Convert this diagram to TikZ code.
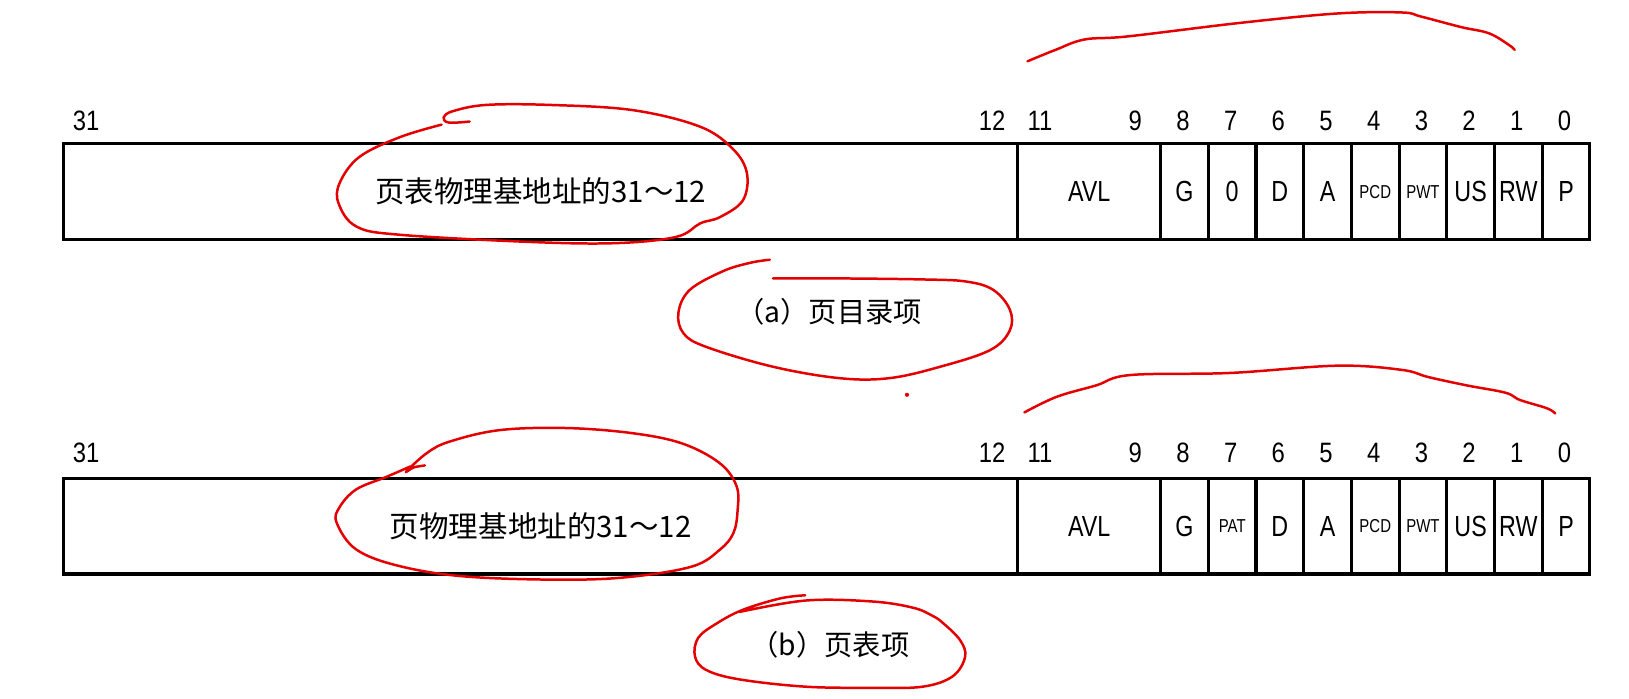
\documentclass[tikz,border=0pt]{standalone}
\usepackage{fontspec}
\setmainfont{Noto Sans CJK SC}
\newfontfamily\lab[FakeStretch=0.85]{Liberation Sans}
\newfontfamily\labn[FakeStretch=0.8]{Liberation Sans}
\definecolor{inkred}{RGB}{228,0,0}
\begin{document}
\begin{tikzpicture}[x=0.5pt,y=-0.5pt,
  cellbox/.style={draw, line width=1.5pt, inner sep=0pt, minimum height=46pt, anchor=north west},
  bitnum/.style={font=\lab\fontsize{13.5}{14}\selectfont, inner sep=0pt},
  fld/.style={font=\labn\fontsize{14}{15}\selectfont},
  sfld/.style={font=\labn\fontsize{9}{10}\selectfont},
  big/.style={font=\fontsize{14.2}{15}\selectfont},
  captxt/.style={font=\fontsize{13.6}{15}\selectfont, inner sep=0pt},
  ink/.style={inkred, line width=1.2pt, line cap=round, line join=round}]
\useasboundingbox (0,0) rectangle (1568,672);
\def\cw{45.9}
% upper row: page directory entry
\foreach \nm/\i/\n/\txt/\sty in {F/0/20/{页表物理基地址的31～12}/big, AVL/20/3/AVL/fld, G/23/1/G/fld, O/24/1/0/fld, D/25/1/D/fld, A/26/1/A/fld, PCD/27/1/PCD/sfld, PWT/28/1/PWT/sfld, US/29/1/US/fld, RW/30/1/RW/fld, P/31/1/P/fld}
  \node[cellbox,\sty,minimum width=\n*22.95pt] (u\nm) at ({60+\i*\cw},137) {\txt};
\foreach \b in {31,12,11,9,8,7,6,5,4,3,2,1,0}
  \node[bitnum] (ub\b) at ({60+(31-\b+0.5)*\cw},116) {\b};
\node[captxt] (capa) at (798,300) {（a）页目录项};
% lower row: page table entry
\foreach \nm/\i/\n/\txt/\sty in {F/0/20/{页物理基地址的31～12}/big, AVL/20/3/AVL/fld, G/23/1/G/fld, PAT/24/1/PAT/sfld, D/25/1/D/fld, A/26/1/A/fld, PCD/27/1/PCD/sfld, PWT/28/1/PWT/sfld, US/29/1/US/fld, RW/30/1/RW/fld, P/31/1/P/fld}
  \node[cellbox,\sty,minimum width=\n*22.95pt] (l\nm) at ({60+\i*\cw},459) {\txt};
\foreach \b in {31,12,11,9,8,7,6,5,4,3,2,1,0}
  \node[bitnum] (lb\b) at ({60+(31-\b+0.5)*\cw},436) {\b};
\node[captxt] (capb) at (799,621) {（b）页表项};
% red freehand annotations
\draw[ink] plot[smooth, tension=0.6] coordinates {(989,59) (1016,48) (1044,38) (1086,35) (1194,22) (1287,13) (1349,12) (1368,16) (1406,26) (1433,32) (1452,43) (1458,48)};
\draw[ink] plot[smooth, tension=0.6] coordinates {(452,117) (432,118) (427,113) (436,107) (468,101) (529,101) (609,106) (674,122) (706,144) (719,167) (715,193) (693,209) (674,215) (651,228) (594,234) (513,233) (385,226) (343,218) (326,196) (327,176) (346,151) (385,132) (425,120)};
\draw[ink] plot[smooth, tension=0.6] coordinates {(741,250) (722,253) (696,261) (664,279) (653,301) (658,321) (680,334) (744,353) (808,364) (856,364) (905,353) (953,337) (972,318) (972,298) (956,279) (930,271) (889,269) (808,268) (744,268)};
\fill[inkred] (873,380) circle (2);
\draw[ink] plot[smooth, tension=0.6] coordinates {(986,397) (1017,382) (1055,371) (1088,361) (1184,359) (1287,352) (1349,356) (1375,363) (1412,371) (1449,378) (1463,385) (1489,393) (1497,398)};
\draw[ink] plot[smooth, tension=0.6] coordinates {(409,448) (398,450) (391,454) (411,436) (433,425) (481,414) (545,412) (609,417) (657,427) (693,446) (709,468) (710,491) (706,513) (693,529) (667,545) (609,555) (545,558) (449,555) (385,545) (343,529) (324,503) (327,488) (343,471) (372,459) (395,449)};
\draw[ink] plot[smooth, tension=0.6] coordinates {(775,573) (751,576) (715,587) (690,600) (672,614) (669,632) (680,645) (712,654) (776,661) (841,662) (888,661) (917,651) (929,632) (924,616) (908,600) (898,593) (879,585) (840,579) (776,578) (712,589)};
\end{tikzpicture}
\end{document}
